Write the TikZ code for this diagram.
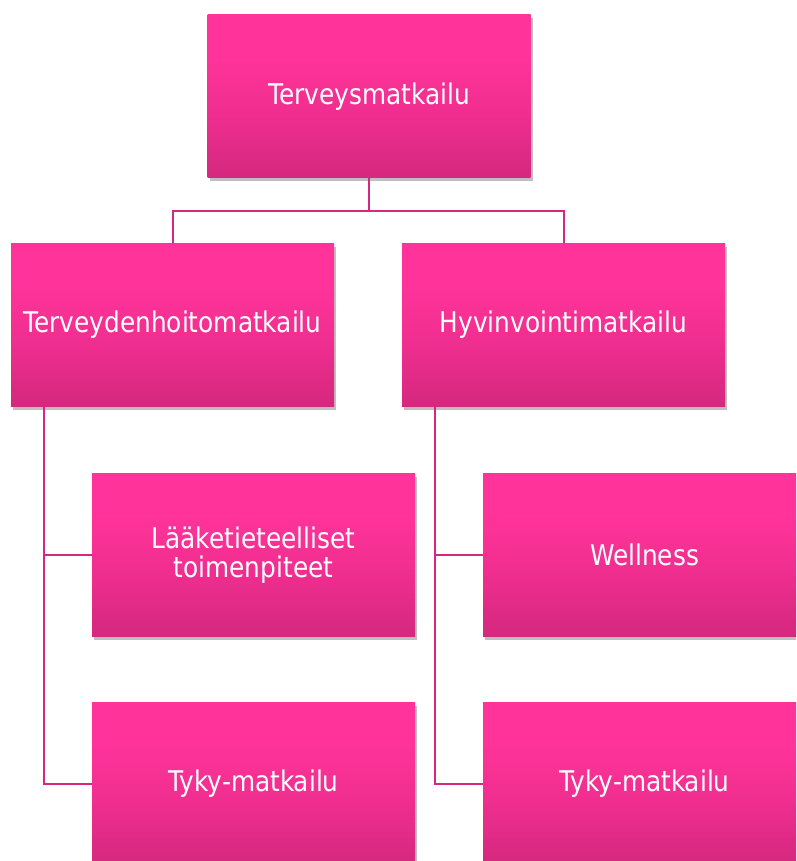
\documentclass[tikz,border=0pt]{standalone}
\usepackage{fontspec}
\newfontfamily\boxfont[FakeStretch=0.87]{DejaVu Sans}
\usetikzlibrary{shadows}
\definecolor{pinktop}{RGB}{255,51,153}
\definecolor{pinkmid}{RGB}{240,46,144}
\definecolor{pinkbot}{RGB}{212,40,126}
\definecolor{linkcol}{RGB}{214,40,128}
\pgfdeclareverticalshading{pinkshade}{100bp}{
  color(0bp)=(pinkbot); color(25bp)=(pinkbot); color(45bp)=(pinkmid);
  color(62bp)=(pinktop); color(75bp)=(pinktop); color(100bp)=(pinktop)}
\tikzset{
  orgbox/.style={rectangle, minimum width=323pt, minimum height=163pt,
    inner sep=0pt, shading=pinkshade, draw=none,
    drop shadow={shadow xshift=2pt, shadow yshift=-3pt, opacity=0.25, fill=black},
    text=white, align=center,
    font=\boxfont\fontsize{28.5}{29.5}\selectfont},
  link/.style={draw=linkcol, line width=2pt}
}
\begin{document}
\begin{tikzpicture}[x=1pt, y=-1pt]
\useasboundingbox (0,0) rectangle (796,861);
\clip (0,0) rectangle (796,861);
\node[orgbox] (top) at (369,96.5) {Terveysmatkailu};
\node[orgbox] (l1) at (172.5,325) {Terveydenhoitomatkailu};
\node[orgbox] (r1) at (563.5,325) {Hyvinvointimatkailu};
\node[orgbox] (l2) at (253.5,555) {Lääketieteelliset\\toimenpiteet};
\node[orgbox] (l3) at (253.5,784) {Tyky-matkailu};
\node[orgbox] (r2) at (644.5,555) {Wellness};
\node[orgbox] (r3) at (644.5,784) {Tyky-matkailu};
\coordinate (hub) at (369,211);
\draw[link] (top.south) -- (hub) -| (l1.north);
\draw[link] (hub) -| (r1.north);
\draw[link] (l1.south -| 44,0) |- (l2.west);
\draw[link] (l1.south -| 44,0) |- (l3.west);
\draw[link] (r1.south -| 435,0) |- (r2.west);
\draw[link] (r1.south -| 435,0) |- (r3.west);
\end{tikzpicture}
\end{document}
